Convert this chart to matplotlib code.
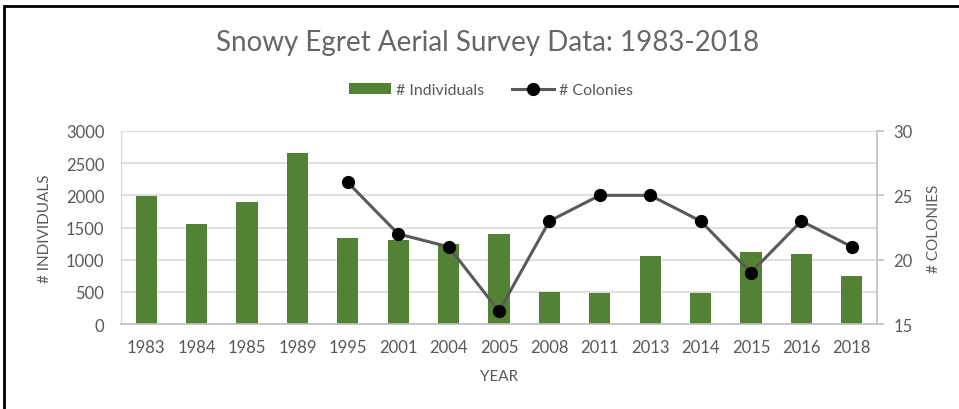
import matplotlib
matplotlib.use("Agg")
import matplotlib.pyplot as plt
import numpy as np
from matplotlib.patches import Rectangle

years = ["1983", "1984", "1985", "1989", "1995", "2001", "2004", "2005",
         "2008", "2011", "2013", "2014", "2015", "2016", "2018"]
individuals = [1995, 1555, 1900, 2655, 1340, 1310, 1250, 1405,
               490, 478, 1052, 478, 1112, 1083, 740]
colonies = [np.nan, np.nan, np.nan, np.nan, 26, 22, 21, 16,
            23, 25, 25, 23, 19, 23, 21]

plt.rcParams['font.family'] = ['Lato', 'DejaVu Sans']
gray = '#595959'

fig = plt.figure(figsize=(9.59, 4.10), dpi=100)
W, H = 959, 410
ax = fig.add_axes([121 / W, 1 - 325 / H, (877 - 121) / W, (325 - 132) / H])
ax2 = ax.twinx()

x = np.arange(len(years))
ax.bar(x, individuals, width=0.42, color='#548235', zorder=2, label='# Individuals')
ax.set_ylim(0, 3000)
ax.set_yticks(np.arange(0, 3001, 500))
ax.set_xlim(-0.5, len(years) - 0.5)
ax.set_xticks(x)
ax.set_xticklabels(years)
ax.grid(axis='y', color='#d9d9d9', linewidth=1.2, zorder=0)
ax.set_axisbelow(True)

ax2.plot(x, colonies, color=gray, linewidth=2.2, marker='o', markersize=8.5,
         markerfacecolor='black', markeredgecolor='black', zorder=3,
         label='# Colonies')
ax2.set_ylim(15, 30)
ax2.set_yticks([15, 20, 25, 30])

for a in (ax, ax2):
    for s in a.spines.values():
        s.set_visible(False)
ax.spines['bottom'].set_visible(True)
ax.spines['bottom'].set_color('#bfbfbf')
ax.spines['bottom'].set_linewidth(1.2)
ax.spines['left'].set_visible(True)
ax.spines['left'].set_color('#d9d9d9')
ax2.spines['right'].set_visible(True)
ax2.spines['right'].set_color('#bfbfbf')
ax2.spines['right'].set_linewidth(1.2)

ax.tick_params(axis='y', length=0, labelsize=12, colors=gray, pad=12)
ax.tick_params(axis='x', length=0, labelsize=12, colors=gray, pad=11)
ax2.tick_params(axis='y', length=5, color='#bfbfbf', labelsize=12,
                labelcolor=gray, pad=7, width=1.2)

ax.set_xlabel('YEAR', fontsize=11, color=gray, labelpad=10)
ax.set_ylabel('# INDIVIDUALS', fontsize=11, color=gray, labelpad=10)
ax2.set_ylabel('# COLONIES', fontsize=11, color=gray, labelpad=10)

fig.text(488 / W, 1 - 43 / H, 'Snowy Egret Aerial Survey Data: 1983-2018',
         ha='center', va='center', fontsize=20, color='#666666',
         fontweight='normal')

h1, l1 = ax.get_legend_handles_labels()
h2, l2 = ax2.get_legend_handles_labels()
fig.legend(h1 + h2, l1 + l2, loc='center', bbox_to_anchor=(491 / W, 1 - 91 / H),
           ncol=2, frameon=False, fontsize=11.5, labelcolor=gray,
           handlelength=2.6, handletextpad=0.3, columnspacing=1.8)

fig.patches.append(Rectangle((4 / W, -0.1), 1.1, 1 - 7 / H + 0.1,
                             transform=fig.transFigure, fill=False,
                             edgecolor='black', linewidth=2, figure=fig))

fig.savefig('out.png', dpi=100)
